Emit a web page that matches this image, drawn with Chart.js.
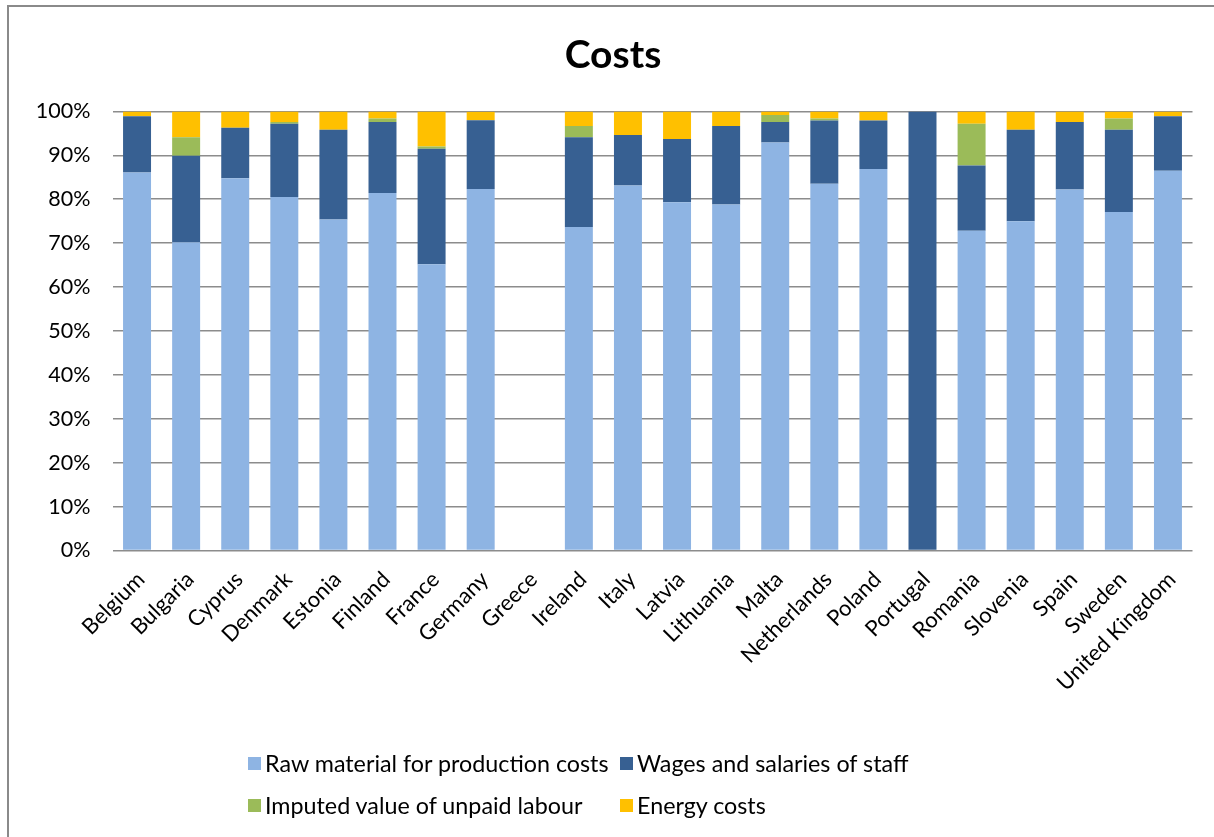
<!DOCTYPE html>
<html>
<head>
<meta charset="utf-8">
<title>Costs</title>
<script src="https://cdn.jsdelivr.net/npm/chart.js@4.4.1/dist/chart.umd.min.js"></script>
<style>
  html, body { margin: 0; padding: 0; background: #fff; overflow: hidden; }
  body { width: 1214px; height: 837px; position: relative; font-family: Lato, "Open Sans", sans-serif; }
  #frame { position: absolute; left: 7px; top: 5px; width: 1400px; height: 1000px; border: 2px solid #8a8a8a; box-sizing: border-box; }
  #wrap { position: absolute; left: 0; top: 0; width: 1214px; height: 730px; }
  #legend { position: absolute; left: 0; top: 0; width: 1214px; height: 837px; pointer-events: none; }
  .item { position: absolute; display: flex; align-items: center; font-size: 23.3px; color: #000; white-space: nowrap; }
  .swatch { width: 13px; height: 13px; margin-right: 4px; }
</style>
</head>
<body>
<div id="frame"></div>
<div id="wrap"><canvas id="chart"></canvas></div>
<div id="legend"></div>
<script>
// Countries along the x axis
const categories = ['Belgium', 'Bulgaria', 'Cyprus', 'Denmark', 'Estonia', 'Finland', 'France', 'Germany',
  'Greece', 'Ireland', 'Italy', 'Latvia', 'Lithuania', 'Malta', 'Netherlands', 'Poland', 'Portugal',
  'Romania', 'Slovenia', 'Spain', 'Sweden', 'United Kingdom'];

// Share of each cost type, in percent of total costs (Greece: no data)
const rawMaterial = [86.1, 70.2, 84.8, 80.5, 75.4, 81.4, 65.2, 82.3, null, 73.7, 83.1, 79.3, 78.8, 92.9, 83.5, 86.9, 0, 72.8, 75.0, 82.2, 77.1, 86.5];
const wages       = [12.8, 19.7, 11.5, 16.7, 20.4, 16.2, 26.3, 15.7, null, 20.4, 11.5, 14.4, 17.9, 4.7, 14.4, 11.0, 100, 14.9, 20.8, 15.4, 18.7, 12.4];
const unpaidLabour= [0, 4.2, 0, 0.4, 0, 0.8, 0.5, 0, null, 2.6, 0, 0, 0, 1.6, 0.5, 0, 0, 9.5, 0, 0, 2.6, 0];
const energy      = [1.1, 5.9, 3.7, 2.4, 4.2, 1.6, 8.0, 1.9, null, 3.3, 5.4, 6.3, 3.3, 0.8, 1.6, 2.1, 0, 2.8, 4.2, 2.4, 1.6, 1.1];

// Y axis tick values (percent)
const yTicks = [0, 10, 20, 30, 40, 50, 60, 70, 80, 90, 100];

const seriesNames = ['Raw material for production costs', 'Wages and salaries of staff',
  'Imputed value of unpaid labour', 'Energy costs'];
const seriesColors = ['#8EB4E3', '#376092', '#9BBB59', '#FFC000'];

const FONT = 'Lato, "Open Sans", sans-serif';

const chart = new Chart(document.getElementById('chart'), {
  type: 'bar',
  data: {
    labels: categories,
    datasets: [rawMaterial, wages, unpaidLabour, energy].map((values, i) => ({
      label: seriesNames[i],
      data: values,
      backgroundColor: seriesColors[i],
      borderWidth: 0,
      barPercentage: 0.57,
      categoryPercentage: 1.0
    }))
  },
  options: {
    responsive: true,
    maintainAspectRatio: false,
    animation: false,
    layout: { padding: { left: 33.5, right: 21.5, top: 0, bottom: 0 } },
    plugins: {
      legend: { display: false },
      tooltip: { enabled: false },
      title: {
        display: true,
        text: 'Costs',
        color: '#000',
        font: { family: FONT, size: 39, weight: 'bold', lineHeight: 1.2 },
        padding: { top: 31.6, bottom: 33 }
      }
    },
    scales: {
      x: {
        stacked: true,
        grid: { display: false, drawTicks: false },
        border: { display: false },
        ticks: {
          color: '#000',
          font: { family: FONT, size: 22 },
          maxRotation: 45,
          minRotation: 45,
          autoSkip: false,
          padding: 16,
          labelOffset: 4
        },
        afterFit(scale) { scale.height = 730 - 550.5; }
      },
      y: {
        stacked: true,
        min: 0,
        max: 100,
        afterBuildTicks(scale) { scale.ticks = yTicks.map(v => ({ value: v })); },
        grid: { color: '#8c8c8c', lineWidth: 1.6, drawTicks: false },
        border: { display: false },
        ticks: {
          color: '#000',
          font: { family: FONT, size: 21.5 },
          padding: 22,
          callback: v => v + '%'
        },
        afterFit(scale) { scale.width = 112.5 - 33.5; }
      }
    }
  }
});

// Legend laid out in two columns below the plot
const legendPos = [[248, 763], [620, 763], [248, 805], [620, 805]];
const legendEl = document.getElementById('legend');
chart.data.datasets.forEach((ds, i) => {
  const item = document.createElement('div');
  item.className = 'item';
  item.style.left = legendPos[i][0] + 'px';
  item.style.top = (legendPos[i][1] - 14) + 'px';
  item.style.height = '28px';
  const sw = document.createElement('span');
  sw.className = 'swatch';
  sw.style.background = ds.backgroundColor;
  const tx = document.createElement('span');
  tx.textContent = ds.label;
  item.appendChild(sw);
  item.appendChild(tx);
  legendEl.appendChild(item);
});
</script>
</body>
</html>
